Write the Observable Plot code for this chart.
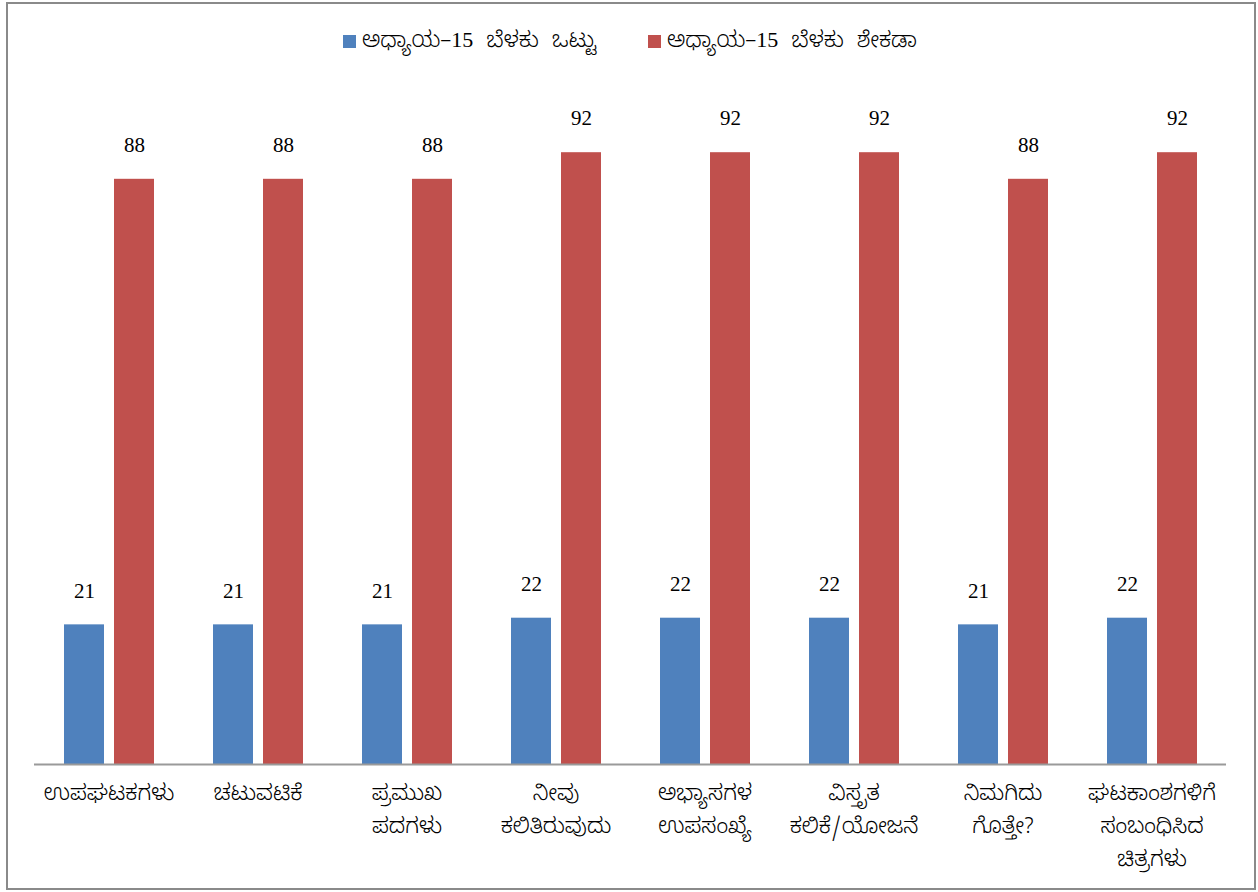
<!DOCTYPE html>
<html>
<head>
<meta charset="utf-8">
<script src="https://cdn.jsdelivr.net/npm/d3@7"></script>
<script src="https://cdn.jsdelivr.net/npm/@observablehq/plot@0.6"></script>
<style>
  html, body { margin: 0; padding: 0; background: #fff; }
  #wrap { position: relative; width: 1258px; height: 892px; overflow: hidden; }
  #frame { position: absolute; left: 6px; top: 2px; width: 1246px; height: 884px; border: 2px solid #8a8a8a; pointer-events: none; }
  #legend { position: absolute; top: 20px; left: 0; width: 1258px; height: 40px; font-family: "Noto Sans Kannada", "Noto Sans", sans-serif; font-size: 22px; font-weight: 300; color: #000; }
  .item { position: absolute; top: 0; height: 40px; white-space: nowrap; word-spacing: 7px; }
  .sw { position: absolute; left: 0; top: 15px; width: 13px; height: 13px; }
  .txt { position: absolute; left: 19px; top: 0; line-height: 40px; }
  .num { font-family: "Liberation Serif", "Times New Roman", serif; font-weight: 400; }
  #chart { position: absolute; left: 0; top: 0; }
</style>
</head>
<body>
<div id="wrap">
  <div id="chart"></div>
  <div id="legend"></div>
  <div id="frame"></div>
</div>
<script>
const categories = ["ಉಪಘಟಕಗಳು", "ಚಟುವಟಿಕೆ", "ಪ್ರಮುಖ ಪದಗಳು", "ನೀವು ಕಲಿತಿರುವುದು", "ಅಭ್ಯಾಸಗಳ ಉಪಸಂಖ್ಯೆ", "ವಿಸ್ತೃತ ಕಲಿಕೆ/ಯೋಜನೆ", "ನಿಮಗಿದು ಗೊತ್ತೇ?", "ಘಟಕಾಂಶಗಳಿಗೆ ಸಂಬಂಧಿಸಿದ ಚಿತ್ರಗಳು"];
const tickLabels = ["ಉಪಘಟಕಗಳು", "ಚಟುವಟಿಕೆ", "ಪ್ರಮುಖ\nಪದಗಳು", "ನೀವು\nಕಲಿತಿರುವುದು", "ಅಭ್ಯಾಸಗಳ\nಉಪಸಂಖ್ಯೆ", "ವಿಸ್ತೃತ\nಕಲಿಕೆ/ಯೋಜನೆ", "ನಿಮಗಿದು\nಗೊತ್ತೇ?", "ಘಟಕಾಂಶಗಳಿಗೆ\nಸಂಬಂಧಿಸಿದ\nಚಿತ್ರಗಳು"];
const seriesNames = ["ಅಧ್ಯಾಯ–15 ಬೆಳಕು ಒಟ್ಟು", "ಅಧ್ಯಾಯ–15 ಬೆಳಕು ಶೇಕಡಾ"];
const totalValues = [21, 21, 21, 22, 22, 22, 21, 22];
const percentValues = [88, 88, 88, 92, 92, 92, 88, 92];
const seriesColors = ["#4F81BD", "#C0504D"];

const data = [];
categories.forEach((c, i) => {
  data.push({category: c, series: seriesNames[0], value: totalValues[i]});
  data.push({category: c, series: seriesNames[1], value: percentValues[i]});
});
const labelData = categories.map((c, i) => ({category: c, label: tickLabels[i]}));

const chart = Plot.plot({
  width: 1258,
  height: 892,
  marginLeft: 33,
  marginRight: 31,
  marginTop: 99,
  marginBottom: 128,
  style: {background: "transparent"},
  fx: {domain: categories, padding: 0, axis: null},
  x: {domain: seriesNames, paddingInner: 0.2, paddingOuter: 0.59, axis: null},
  y: {domain: [0, 100], axis: null},
  color: {domain: seriesNames, range: seriesColors},
  marks: [
    Plot.barY(data, {fx: "category", x: "series", y: "value", fill: "series"}),
    Plot.ruleY([0], {stroke: "#9a9a9a", strokeWidth: 2}),
    Plot.text(data, {fx: "category", x: "series", y: "value", text: d => String(d.value), dy: -34, fontFamily: "'Liberation Serif', 'Times New Roman', serif", fontSize: 21, fill: "#000"}),
    Plot.text(labelData, {fx: "category", text: "label", frameAnchor: "bottom", lineAnchor: "top", dy: 12, lineHeight: 1.5, fontSize: 22, fontWeight: 300, fontFamily: "'Noto Sans Kannada', 'Noto Sans', sans-serif", fill: "#000"})
  ]
});
document.getElementById("chart").appendChild(chart);

const legend = document.getElementById("legend");
const positions = [343, 648];
seriesNames.forEach((s, i) => {
  const item = document.createElement("div");
  item.className = "item";
  item.style.left = positions[i] + "px";
  const sw = document.createElement("div");
  sw.className = "sw";
  sw.style.background = seriesColors[i];
  item.appendChild(sw);
  const t = document.createElement("span");
  t.className = "txt";
  s.split(/(\d+)/).forEach(p => {
    const sp = document.createElement("span");
    if (/^\d+$/.test(p)) sp.className = "num";
    sp.textContent = p;
    t.appendChild(sp);
  });
  item.appendChild(t);
  legend.appendChild(item);
});
</script>
</body>
</html>
